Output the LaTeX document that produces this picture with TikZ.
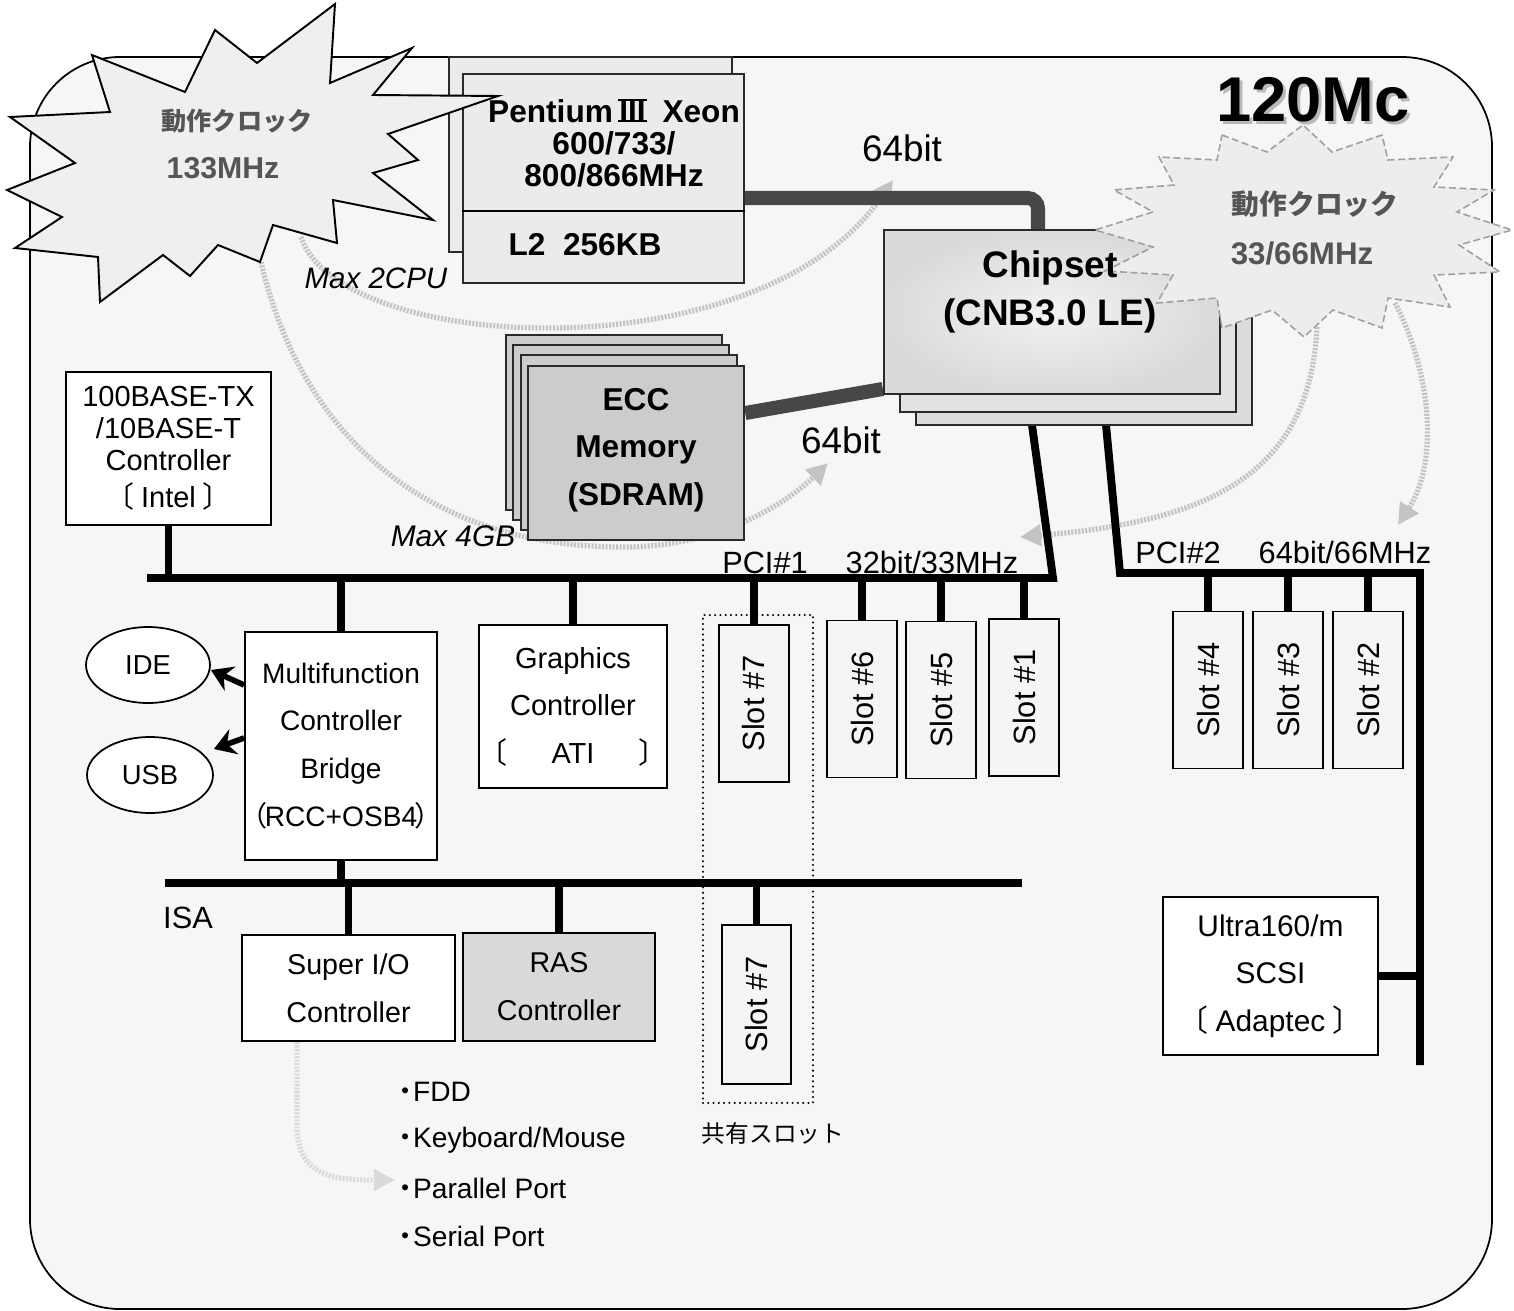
\documentclass[tikz,border=0pt]{standalone}
\usepackage{fontspec}
\setmainfont{Liberation Sans}
\newfontfamily\cjk{Noto Sans CJK JP}
\usetikzlibrary{arrows.meta,shapes.geometric}
\pgfdeclarelayer{layerA}
\pgfdeclarelayer{layerB}
\pgfsetlayers{layerA,layerB,main}
\definecolor{bgfill}{HTML}{F6F6F6}
\definecolor{busgray}{HTML}{474747}
\definecolor{cpufill}{HTML}{EBEBEB}
\definecolor{memfill}{HTML}{CCCCCC}
\definecolor{chipback}{HTML}{DCDCDC}
\definecolor{chipmid}{HTML}{E2E2E2}
\definecolor{chipin}{HTML}{F2F2F2}
\definecolor{chipout}{HTML}{DADADA}
\definecolor{slotfill}{HTML}{F5F5F5}
\definecolor{rasfill}{HTML}{D9D9D9}
\definecolor{starfill}{HTML}{EFEFEF}
\definecolor{startwofill}{HTML}{EDEDED}
\definecolor{startext}{HTML}{555555}
\definecolor{starline}{HTML}{A0A0A0}
\definecolor{faint}{HTML}{C4C4C4}
\definecolor{fainter}{HTML}{DADADA}
\definecolor{edge}{HTML}{2A2A2A}
\newcommand{\fsz}[2]{\fontsize{#1}{#2}\selectfont}
\newcommand{\romthree}{\mbox{\rlap{\rule[0pt]{0.9em}{1.4pt}}\rlap{\rule[0.66em]{0.9em}{1.4pt}}\hbox to 0.9em{\hss III\hss}}}
\tikzset{
  box/.style={draw=black, line width=1.1pt, inner sep=0pt, align=center, fill=white},
  slotbox/.style={box, fill=slotfill, minimum width=1.4cm, minimum height=3.14cm, font=\fsz{17.5}{20}},
  bus/.style={draw=black, line width=4.5pt},
  fatbus/.style={draw=busgray, line width=8pt},
  txt/.style={inner sep=0pt, align=center},
  faintarrow/.style={draw=faint, line width=3pt, dash pattern=on 1.2pt off 0.8pt, -{Triangle[length=12pt,width=12pt]}},
  thickarrow/.style={draw=black, line width=3.2pt, -{Stealth[length=12pt,width=15pt,inset=4pt]}},
  cpubox/.style={draw=edge, line width=1.2pt, fill=cpufill},
  membox/.style={draw=edge, line width=1.4pt, fill=memfill},
  chipbox/.style={draw=edge, line width=1.4pt},
  oval/.style={draw=black, line width=1pt, ellipse, inner sep=0pt, fill=white, font=\fsz{15.6}{16}},
  buslabel/.style={txt, font=\fsz{17.5}{18}},
  listitem/.style={inner sep=0pt, anchor=west, font=\fsz{16}{17}}
}
\begin{document}
\begin{tikzpicture}[x=0.02cm,y=-0.02cm]
\useasboundingbox (0,0) rectangle (1514,1311);
\begin{pgfonlayer}{layerA}
\path[draw=black,line width=1pt,fill=bgfill,rounded corners=1.8cm] (30,57) rectangle (1492,1309);
\end{pgfonlayer}

% ---------- CPU ----------
\draw[cpubox] (449,57) rectangle (732,252);
\node[box, cpubox, minimum width=5.62cm, minimum height=4.18cm] (cpu) at (603.5,178.5) {};
\coordinate (cdiv) at (0,211);
\draw[draw=black,line width=1.2pt] (cpu.west |- cdiv) -- (cpu.east |- cdiv);

% ---------- Memory ----------
\draw[membox] (506,335) rectangle (722,510);
\draw[membox] (513,345) rectangle (729,520);
\draw[membox] (521,355) rectangle (737,530);
\node[box, membox, minimum width=4.32cm, minimum height=3.48cm] (mem) at (636,453) {};
\node[txt, font=\bfseries\fsz{18}{27}] (memtxt) at (636,450) {ECC\\Memory\\(SDRAM)};
\node[txt, font=\itshape\fsz{17}{18}] (max4) at (453,536) {Max 4GB};
\node[txt, font=\fsz{21}{22}] (bitmem) at (841,440) {64bit};

% ---------- Chipset ----------
\draw[chipbox, fill=chipback] (916,262) rectangle (1252,425);
\draw[chipbox, fill=chipmid] (900,246) rectangle (1236,412);
\node[box, chipbox, inner color=chipin, outer color=chipout, minimum width=6.72cm, minimum height=3.28cm] (chip) at (1052,312) {};
\coordinate (c1) at (1032,425);
\coordinate (c2) at (1106,425);

% ---------- left star ----------
\draw[draw=black, line width=1.1pt, fill=starfill, line join=miter]
 (335,4) -- (330,83) -- (412,48) -- (373,95) -- (498,96) -- (388,134) -- (418,160) -- (373,173) -- (433,220) -- (333,200) -- (337,243) -- (273,225) -- (260,262) -- (218,245) -- (190,276) -- (163,255) -- (100,302) -- (98,257) -- (15,248) -- (62,217) -- (7,190) -- (75,163) -- (10,117) -- (110,112) -- (92,55) -- (185,92) -- (215,30) -- (257,63) -- cycle;
\node[txt, font=\cjk\bfseries\fsz{14.3}{15}, text=startext] (st1a) at (237,121) {動作クロック};
\node[txt, font=\bfseries\fsz{17.2}{18}, text=startext] (st1b) at (223,168) {133MHz};

% CPU text
\node[txt, font=\bfseries\fsz{18}{18.4}] (cputxt) at (614,143) {Pentium\,\romthree\hspace{9pt}Xeon\\600/733/\\800/866MHz};
\node[txt, font=\bfseries\fsz{18}{20}] (l2) at (585,245) {L2\ \ 256KB};
\node[txt, font=\itshape\fsz{16.8}{18}] (max2) at (376,278) {Max 2CPU};
\node[txt, font=\fsz{21}{22}] (bitcpu) at (902,148) {64bit};

% ---------- right star ----------
\draw[draw=starline, line width=0.9pt, dash pattern=on 4pt off 2pt, fill=startwofill]
 (1222,135) -- (1267,152) -- (1303,125) -- (1332,152) -- (1382,135) -- (1388,160) -- (1453,157) -- (1434,187) -- (1494,190) -- (1457,212) -- (1512,230) -- (1459,245) -- (1500,272) -- (1434,275) -- (1450,307) -- (1388,298) -- (1382,328) -- (1333,310) -- (1304,337) -- (1272,310) -- (1222,328) -- (1217,298) -- (1157,303) -- (1173,275) -- (1105,271) -- (1153,247) -- (1095,230) -- (1153,212) -- (1114,190) -- (1174,185) -- (1159,157) -- (1217,160) -- cycle;
\node[txt, font=\cjk\bfseries\fsz{15.8}{16}, text=startext] (st2a) at (1315,204) {動作クロック};
\node[txt, font=\bfseries\fsz{17.8}{18}, text=startext] (st2b) at (1302,253) {33/66MHz};
\node[txt, font=\bfseries\fsz{21}{27}] (chiptxt) at (1050,292) {Chipset\\(CNB3.0 LE)};

% title
\node[txt, font=\bfseries\fsz{36}{36}, text=gray!55] (titlesh) at (1316,103) {120Mc};
\node[txt, font=\bfseries\fsz{36}{36}] (title) at (1313,100) {120Mc};

% ---------- lower boxes ----------
\node[box, minimum width=4.1cm, minimum height=3.06cm, font=\fsz{16.5}{18.1}] (eth) at (168.5,448.5)
  {100BASE-TX\\/10BASE-T\\Controller\\[3pt]{\cjk 〔}\hspace{4pt}Intel\hspace{4pt}{\cjk 〕}};
\node[box, minimum width=3.84cm, minimum height=4.56cm, font=\fsz{16}{27.2}] (mfc) at (341,746)
  {Multifunction\\Controller\\Bridge\\\makebox[0pt][c]{{\cjk （}\kern-0.1em RCC+OSB4\kern-0.1em{\cjk ）}}};
\node[box, minimum width=3.72cm, minimum height=3.26cm, font=\fsz{16.5}{27}] (gfx) at (573,706.5)
  {Graphics\\Controller\\{\cjk 〔}\hspace{25pt}ATI\hspace{25pt}{\cjk 〕}};
\node[oval, minimum width=2.48cm, minimum height=1.52cm] (ide) at (148,665) {IDE};
\node[oval, minimum width=2.52cm, minimum height=1.52cm] (usb) at (150,775) {USB};

\node[draw=black, line width=1.3pt, dash pattern=on 0pt off 3pt, line cap=round, minimum width=2.2cm, minimum height=9.76cm, inner sep=0pt] (shared) at (758,859) {};
\node[txt, font=\cjk\fsz{13.5}{14}] (sharedlbl) at (773,1133) {共有スロット};

\node[slotbox] (s7a) at (754,703.5) {\rotatebox{90}{Slot \#7}};
\node[slotbox] (s6) at (862,699) {\rotatebox{90}{Slot \#6}};
\node[slotbox] (s5) at (941,700) {\rotatebox{90}{Slot \#5}};
\node[slotbox] (s1) at (1024,697.5) {\rotatebox{90}{Slot \#1}};
\node[slotbox] (s4) at (1208,690) {\rotatebox{90}{Slot \#4}};
\node[slotbox] (s3) at (1288,690) {\rotatebox{90}{Slot \#3}};
\node[slotbox] (s2) at (1368,690) {\rotatebox{90}{Slot \#2}};
\node[slotbox, minimum width=1.38cm, minimum height=3.18cm] (s7b) at (756.5,1004.5) {\rotatebox{90}{Slot \#7}};

\node[box, minimum width=4.26cm, minimum height=2.12cm, font=\fsz{16.3}{27.2}] (sio) at (348.5,988) {Super I/O\\Controller};
\node[box, fill=rasfill, minimum width=3.84cm, minimum height=2.16cm, font=\fsz{16.3}{27.2}] (ras) at (559,987) {RAS\\Controller};
\node[box, minimum width=4.3cm, minimum height=3.16cm, font=\fsz{17}{27}] (scsi) at (1270.5,976)
  {Ultra160/m\\SCSI\\{\cjk 〔}\hspace{4pt}Adaptec\hspace{4pt}{\cjk 〕}};

% labels
\node[buslabel] (pci1) at (765,563) {PCI\#1};
\node[buslabel] (pci1s) at (932,563) {32bit/33MHz};
\node[buslabel] (pci2) at (1178,553) {PCI\#2};
\node[buslabel] (pci2s) at (1345,553) {64bit/66MHz};
\node[buslabel] (isa) at (188,918) {ISA};

\node[listitem] (li1) at (397,1092) {\makebox[9pt][c]{\cjk ・}FDD};
\node[listitem] (li2) at (397,1140) {\makebox[9pt][c]{\cjk ・}Keyboard/Mouse};
\node[listitem] (li3) at (397,1188) {\makebox[9pt][c]{\cjk ・}Parallel Port};
\node[listitem] (li4) at (397,1236) {\makebox[9pt][c]{\cjk ・}Serial Port};

% IDE / USB arrows
\draw[thickarrow] ([yshift=1.22cm]mfc.west) -- ([yshift=-0.1cm]ide.east);
\draw[thickarrow] ([yshift=0.16cm]mfc.west) -- ([yshift=0.52cm]usb.east);

% ---------- connectors under boxes ----------
\begin{pgfonlayer}{layerB}
% faint clock arrows
\coordinate (fa1s) at (301,237); \coordinate (fa1e) at (893,180);
\draw[faintarrow] (fa1s) .. controls (340,355) and (760,375) .. (fa1e);
\coordinate (fa2s) at (261,262); \coordinate (fa2e) at (828,463);
\draw[faintarrow] (fa2s) .. controls (300,430) and (420,545) .. (618,547) .. controls (720,549) and (790,500) .. (fa2e);
\coordinate (fa3s) at (1317,327); \coordinate (fa3e) at (1020,537);
\draw[faintarrow] (fa3s) .. controls (1310,480) and (1200,522) .. (fa3e);
\coordinate (fa4s) at (1395,303); \coordinate (fa4e) at (1398,525);
\draw[faintarrow] (fa4s) .. controls (1430,370) and (1440,460) .. (fa4e);
\coordinate (fa5e) at (395,1180);
\draw[faintarrow, draw=fainter] ([xshift=-1.03cm]sio.south) -- (297,1130) .. controls (300,1175) and (330,1180) .. (fa5e);

% system buses
\draw[fatbus, rounded corners=6pt] ([yshift=-0.39cm]cpu.east) -| ([xshift=-0.28cm]chip.north);
\draw[fatbus] ([yshift=0.8cm]mem.east) -- ([yshift=-1.54cm]chip.west);

% PCI#1
\coordinate (p1L) at (147,578);
\coordinate (p1R) at (1053,578);
\draw[bus, line join=miter] (p1L) -- (p1R) -- (c1);
\draw[bus] (eth.south) -- (eth.south |- p1L);
\draw[bus] (mfc.north) -- (mfc.north |- p1L);
\draw[bus] (gfx.north) -- (gfx.north |- p1L);
\draw[bus] (s7a.north) -- (s7a.north |- p1L);
\draw[bus] (s6.north) -- (s6.north |- p1L);
\draw[bus] (s5.north) -- (s5.north |- p1L);
\draw[bus] (s1.north) -- (s1.north |- p1L);

% PCI#2
\coordinate (p2c) at (1120,573);
\coordinate (p2r) at (1420,573);
\coordinate (p2b) at (1420,1065);
\draw[bus, line join=miter] (c2) -- (p2c) -- (p2r) -- (p2b);
\draw[bus] (s4.north) -- (s4.north |- p2r);
\draw[bus] (s3.north) -- (s3.north |- p2r);
\draw[bus] (s2.north) -- (s2.north |- p2r);
\draw[bus] (scsi.east) -- (scsi.east -| p2r);

% ISA
\coordinate (isaL) at (165,883);
\coordinate (isaR) at (1022,883);
\draw[bus] (isaL) -- (isaR);
\draw[bus] (mfc.south) -- (mfc.south |- isaL);
\draw[bus] (sio.north) -- (sio.north |- isaL);
\draw[bus] (ras.north) -- (ras.north |- isaL);
\draw[bus] (s7b.north) -- (s7b.north |- isaL);
\end{pgfonlayer}
\end{tikzpicture}
\end{document}
